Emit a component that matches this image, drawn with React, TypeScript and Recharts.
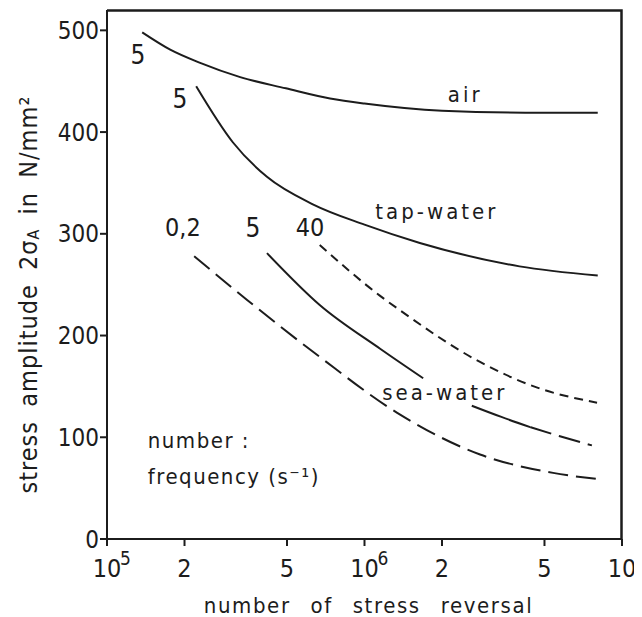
import React from 'react';
import { LineChart, Line, XAxis, YAxis, ReferenceDot, Label } from 'recharts';

const FONT = "'DejaVu Sans Condensed', 'DejaVu Sans', sans-serif";
const INK = '#1c1c1c';

const xTicks = [1e5, 2e5, 5e5, 1e6, 2e6, 5e6, 1e7];
const yTicks = [0, 100, 200, 300, 400, 500];
const xDomain = [1e5, 1e7];
const yDomain = [0, 520];

const airData = [
  { x: 1.37e5, y: 498 },
  { x: 1.76e5, y: 481 },
  { x: 2.3e5, y: 468 },
  { x: 3.29e5, y: 454 },
  { x: 4.95e5, y: 443 },
  { x: 7.35e5, y: 433 },
  { x: 1e6, y: 428 },
  { x: 2e6, y: 421 },
  { x: 4.9e6, y: 419 },
  { x: 8.05e6, y: 419 },
];
const tapWaterData = [
  { x: 2.22e5, y: 445 },
  { x: 3.08e5, y: 390 },
  { x: 4.18e5, y: 356 },
  { x: 6.3e5, y: 329 },
  { x: 1e6, y: 309 },
  { x: 1.64e6, y: 291 },
  { x: 4e6, y: 268 },
  { x: 8.05e6, y: 259 },
];
const sea02Data = [
  { x: 2.18e5, y: 278 },
  { x: 3.5e5, y: 235 },
  { x: 6.7e5, y: 179 },
  { x: 1.34e6, y: 124 },
  { x: 2.81e6, y: 83 },
  { x: 5.4e6, y: 65 },
  { x: 8.0e6, y: 59 },
];
const sea5SolidA = [
  { x: 4.18e5, y: 281 },
  { x: 6.7e5, y: 230 },
  { x: 1.15e6, y: 187 },
  { x: 1.69e6, y: 158 },
];
const sea5SolidB = [
  { x: 2.61e6, y: 131 },
  { x: 3.4e6, y: 120 },
  { x: 4.4e6, y: 110 },
];
const sea5Dashed = [
  { x: 4.4e6, y: 110 },
  { x: 5.74e6, y: 101 },
  { x: 7.64e6, y: 92 },
];
const sea40Data = [
  { x: 6.7e5, y: 289 },
  { x: 1.15e6, y: 239 },
  { x: 1.37e6, y: 225 },
  { x: 2.81e6, y: 174 },
  { x: 4.66e6, y: 149 },
  { x: 8.0e6, y: 134 },
];

type Note = { x: number; y: number; text: string; size: number; anchor: 'start' | 'middle'; spacing: number };
const notes: Note[] = [
  { x: 1.32e5, y: 476, text: '5', size: 26, anchor: 'middle', spacing: 0 },
  { x: 1.92e5, y: 433, text: '5', size: 26, anchor: 'middle', spacing: 0 },
  { x: 1.97e5, y: 306, text: '0,2', size: 25, anchor: 'middle', spacing: 0 },
  { x: 3.69e5, y: 306, text: '5', size: 26, anchor: 'middle', spacing: 0 },
  { x: 6.14e5, y: 306, text: '40', size: 25, anchor: 'middle', spacing: 0 },
  { x: 2.46e6, y: 437, text: 'air', size: 22, anchor: 'middle', spacing: 3 },
  { x: 1.91e6, y: 322, text: 'tap-water', size: 22, anchor: 'middle', spacing: 3 },
  { x: 2.05e6, y: 144, text: 'sea-water', size: 22, anchor: 'middle', spacing: 3 },
  { x: 1.44e5, y: 97, text: 'number :', size: 22, anchor: 'start', spacing: 1.5 },
  { x: 1.44e5, y: 61, text: 'frequency  (s\u207B\u00B9)', size: 22, anchor: 'start', spacing: 1.5 },
];

const CHART_W = 634;
const CHART_H = 609;
const MARGIN = { top: 2, right: 20, left: 39, bottom: 28 };
const Y_AXIS_W = 60;
const X_AXIS_H = 50;

const XTick = (props: any) => {
  const { x, y, payload } = props;
  const v = payload.value as number;
  const exp = Math.round(Math.log10(v));
  const isPow = Math.abs(Math.pow(10, exp) - v) < 1e-6 * v;
  const base = y + 29;
  if (isPow) {
    return (
      <g>
        <text x={x} y={base} textAnchor="middle" fontSize={25} fontFamily={FONT} fill={INK}>10</text>
        <text x={x + 13} y={base - 12} textAnchor="start" fontSize={19} fontFamily={FONT} fill={INK}>{exp}</text>
      </g>
    );
  }
  const m = Math.round(v / Math.pow(10, Math.floor(Math.log10(v))));
  return (
    <text x={x} y={base} textAnchor="middle" fontSize={25} fontFamily={FONT} fill={INK}>{m}</text>
  );
};

const lineProps = {
  dataKey: 'y',
  stroke: INK,
  strokeWidth: 2,
  dot: false,
  activeDot: false,
  isAnimationActive: false,
  type: 'monotone' as const,
};

const axisStroke = { stroke: INK, strokeWidth: 2 };

export default function App() {
  const plotLeft = MARGIN.left + Y_AXIS_W;
  const plotRight = CHART_W - MARGIN.right;
  const plotBottom = CHART_H - MARGIN.bottom - X_AXIS_H;
  return (
    <div style={{ background: '#fff', width: CHART_W, height: CHART_H, position: 'relative' }}>
      <LineChart width={CHART_W} height={CHART_H} margin={MARGIN}>
        <XAxis
          dataKey="x"
          type="number"
          scale="log"
          domain={xDomain}
          ticks={xTicks}
          height={X_AXIS_H}
          tickSize={7}
          tickMargin={2}
          axisLine={axisStroke}
          tickLine={axisStroke}
          tick={<XTick />}
          interval={0}
        >
          <Label
            content={(p: any) => {
              const vb = p.viewBox;
              return (
                <text
                  x={vb.x + vb.width / 2 + 4}
                  y={vb.y + 74}
                  textAnchor="middle"
                  fontSize={22}
                  fontFamily={FONT}
                  fill={INK}
                  letterSpacing={1.6}
                  wordSpacing={12}
                >
                  number of stress reversal
                </text>
              );
            }}
          />
        </XAxis>
        <YAxis
          type="number"
          domain={yDomain}
          ticks={yTicks}
          width={Y_AXIS_W}
          tickSize={7}
          tickMargin={1}
          axisLine={axisStroke}
          tickLine={axisStroke}
          tick={{ fill: INK, fontSize: 24, fontFamily: FONT }}
          interval={0}
        >
          <Label
            content={(p: any) => {
              const vb = p.viewBox;
              const cx = 20;
              const cy = vb.y + vb.height / 2 + 20;
              return (
                <text
                  x={cx}
                  y={cy}
                  transform={`rotate(-90, ${cx}, ${cy})`}
                  textAnchor="middle"
                  dominantBaseline="central"
                  fontSize={25}
                  fontFamily={FONT}
                  fill={INK}
                  letterSpacing={1}
                  wordSpacing={6}
                >
                  stress amplitude 2σ<tspan fontSize={16} dy={5}>A</tspan>
                  <tspan dy={-5}> in N/mm²</tspan>
                </text>
              );
            }}
          />
        </YAxis>

        <Line {...lineProps} data={airData} />
        <Line {...lineProps} data={tapWaterData} />
        <Line {...lineProps} data={sea02Data} strokeDasharray="20 8" />
        <Line {...lineProps} data={sea5SolidA} />
        <Line {...lineProps} data={sea5SolidB} />
        <Line {...lineProps} data={sea5Dashed} strokeDasharray="22 8" />
        <Line {...lineProps} data={sea40Data} strokeDasharray="9 6" />

        {notes.map((n, i) => (
          <ReferenceDot
            key={i}
            x={n.x}
            y={n.y}
            r={1}
            fill="none"
            stroke="none"
            shape={(p: any) => (
              <text
                x={p.cx}
                y={p.cy}
                textAnchor={n.anchor}
                dominantBaseline="central"
                fontSize={n.size}
                fontFamily={FONT}
                fill={INK}
                letterSpacing={n.spacing}
              >
                {n.text}
              </text>
            )}
          />
        ))}
      </LineChart>
      <svg
        width={CHART_W}
        height={CHART_H}
        style={{ position: 'absolute', left: 0, top: 0, pointerEvents: 'none' }}
      >
        <polyline
          points={`${plotLeft},${MARGIN.top + 0.5} ${plotRight - 0.5},${MARGIN.top + 0.5} ${plotRight - 0.5},${plotBottom}`}
          fill="none"
          stroke={INK}
          strokeWidth={2.5}
        />
      </svg>
    </div>
  );
}
